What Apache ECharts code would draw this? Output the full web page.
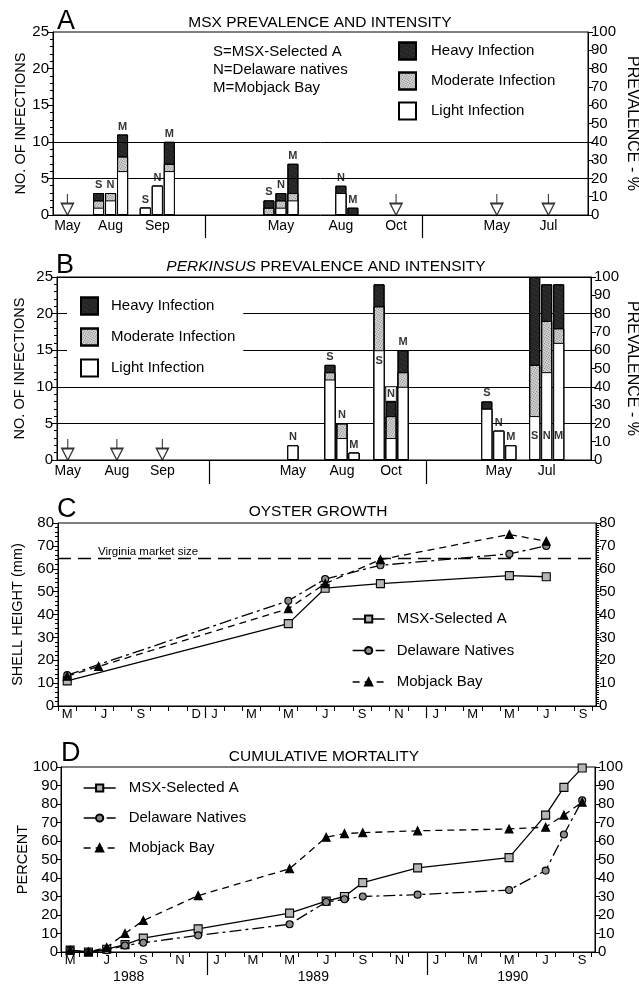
<!DOCTYPE html>
<html>
<head>
<meta charset="utf-8">
<title>Oyster strains: MSX, Perkinsus, growth and mortality</title>
<script src="https://cdn.jsdelivr.net/npm/echarts@6/dist/echarts.min.js"></script>
<style>
  html, body { margin: 0; padding: 0; background: #fff; }
  #chart { width: 639px; height: 985px; }
</style>
</head>
<body>
<div id="chart"></div>
<script>
const FONT = '"Liberation Sans", Arial, Helvetica, sans-serif';

// sampling dates of panels A and B, on a schematic axis (one unit = one bar slot)
const sampleDates = ['May', 'Aug', 'Sep', 'May', 'Aug', 'Oct', 'May', 'Jul'];
const datePosA = [1.2, 4.8, 8.7, 19.0, 24.0, 28.6, 37.0, 41.3];
const datePosB = [0.9, 5.0, 8.8, 19.7, 23.8, 27.9, 36.9, 40.9];
const yearBreakAB = [12.7, 30.8];
const strainOffset = { S: -1, N: 0, M: 1 };

// A: MSX, one entry per bar (date index, strain, counts by intensity)
const aDate = [1, 1, 1, 2, 2, 2, 3, 3, 3, 4, 4];
const aStrain = ['S', 'N', 'M', 'S', 'N', 'M', 'S', 'N', 'M', 'N', 'M'];
const aLight = [1, 2, 6, 1, 4, 6, 0, 1, 2, 3, 0];
const aModerate = [1, 1, 2, 0, 0, 1, 1, 1, 1, 0, 0];
const aHeavy = [1, 0, 3, 0, 0, 3, 1, 1, 4, 1, 1];
const aNoInfection = [0, 5, 6, 7];

// B: Perkinsus
const bDate = [3, 4, 4, 4, 5, 5, 5, 6, 6, 6, 7, 7, 7];
const bStrain = ['N', 'S', 'N', 'M', 'S', 'N', 'M', 'S', 'N', 'M', 'S', 'N', 'M'];
const bLight = [2, 11, 3, 1, 15, 3, 10, 7, 4, 2, 6, 12, 16];
const bModerate = [0, 1, 2, 0, 6, 3, 2, 0, 0, 0, 7, 7, 2];
const bHeavy = [0, 1, 0, 0, 3, 2, 3, 1, 0, 0, 12, 5, 6];
const bLabelMode = ['top', 'top', 'top', 'top', 'inLight', 'box', 'top', 'top', 'top', 'top', 'base', 'base', 'base'];
const bNoInfection = [0, 1, 2];

const intensity = ['Heavy Infection', 'Moderate Infection', 'Light Infection'];
const strainNames = ['MSX-Selected A', 'Delaware Natives', 'Mobjack Bay'];

// C: shell height (mm), months counted from May 1988
const cMsxMonth = [0, 12, 14, 17, 24, 26];
const cMsx = [11, 36, 51.5, 53.5, 57, 56.5];
const cDelMonth = [0, 12, 14, 17, 24, 26];
const cDel = [13.5, 46, 55.5, 61.5, 66.5, 70];
const cMobMonth = [0, 1.7, 12, 14, 17, 24, 26];
const cMob = [13, 17.3, 42.5, 53.5, 64, 75, 72];
const marketSize = 64.5;

// D: cumulative mortality (%)
const dMonth = [0, 1, 2, 3, 4, 7, 12, 14, 15, 16, 19, 24, 26, 27, 28];
const dMsx = [1, 0, 1.5, 4, 7.5, 12.5, 21, 27.5, 30, 37.5, 45.5, 51, 74, 89, 99.5];
const dDel = [1, 0, 1, 3.5, 5, 9, 15, 27, 28.5, 30, 31, 33.5, 44, 63.5, 82];
const dMob = [1, 0, 2.5, 10, 17, 30.5, 45, 62, 64, 64.5, 65.5, 66.5, 67.5, 74, 81];

const cMonthLabels = [0, 2, 4, 7, 8, 10, 12, 14, 16, 18, 20, 22, 24, 26, 28];
const dMonthLabels = [0, 2, 4, 6, 8, 10, 12, 14, 16, 18, 20, 22, 24, 26, 28];
const yearBreakCD = [7.5, 19.5];
const years = ['1988', '1989', '1990'];
const yearPos = [3.2, 13.3, 24.2];

const monthBounds = [];
for (let m = -0.5; m <= 28.5; m += 1) monthBounds.push(m);
const monthLetter = (m) => 'JFMAMJJASOND'[(m + 4) % 12];

const chart = echarts.init(document.getElementById('chart'));

const BLACK = '#000';
const lightStyle = { color: '#fff' };
const moderateStyle = {
  color: '#d6d6d6',
  decal: { symbol: 'rect', symbolSize: 0.8, color: 'rgba(0,0,0,0.55)', dashArrayX: [1, 1], dashArrayY: [1, 1], rotation: 0.5 }
};
const heavyStyle = {
  color: '#252525',
  decal: { symbol: 'rect', symbolSize: 0.6, color: 'rgba(255,255,255,0.45)', dashArrayX: [1, 2], dashArrayY: [1, 3], rotation: 0.5 }
};
const ARROW = 'path://M6,0 L6,9 M0.5,9 L11.5,9 L6,20 Z';

const strainLines = [
  { type: 'solid', symbol: 'rect', size: 8, fill: '#b5b5b5' },
  { type: [12, 4, 3, 4], symbol: 'circle', size: 7, fill: '#8c8c8c' },
  { type: [7, 5], symbol: 'triangle', size: 8, fill: BLACK }
];

function barXs(datePos, dates, strains) {
  return dates.map((d, i) => datePos[d] + strainOffset[strains[i]]);
}

// value axis bars do not stack, so each layer is drawn from zero to its
// cumulative top and the lower layers are painted over the upper ones
function layerSeries(axis, xs, tops, name, style, z) {
  return {
    type: 'bar', name, xAxisIndex: axis, yAxisIndex: axis,
    barWidth: 11, barGap: '-100%', silent: true, z,
    data: xs.map((x, i) => [x, tops[i]]),
    itemStyle: Object.assign({ borderColor: BLACK, borderWidth: 1 }, style)
  };
}

function infectionBars(axis, xs, light, moderate, heavy) {
  const lightTop = light;
  const moderateTop = light.map((v, i) => v + moderate[i]);
  const heavyTop = moderateTop.map((v, i) => v + heavy[i]);
  return [
    layerSeries(axis, xs, heavyTop, 'Heavy Infection', heavyStyle, 3),
    layerSeries(axis, xs, moderateTop, 'Moderate Infection', moderateStyle, 4),
    layerSeries(axis, xs, lightTop, 'Light Infection', lightStyle, 5)
  ];
}

function labelSeries(axis, xs, strains, light, moderate, heavy, modes) {
  const data = xs.map((x, i) => {
    const mode = modes ? modes[i] : 'top';
    const label = {
      show: true, formatter: strains[i], fontSize: 11, fontWeight: 'bold',
      color: BLACK, position: 'top', distance: 2
    };
    let y = light[i] + moderate[i] + heavy[i];
    if (mode === 'base') { y = 0; label.distance = 18; }
    if (mode === 'inLight') { y = light[i]; label.position = 'bottom'; label.distance = 5; }
    if (mode === 'box') {
      Object.assign(label, { backgroundColor: '#fff', borderColor: BLACK, borderWidth: 1, padding: [2, 1, 1, 1], distance: 0 });
    }
    return { value: [x, y], label };
  });
  return {
    type: 'scatter', xAxisIndex: axis, yAxisIndex: axis, symbolSize: 1,
    itemStyle: { color: 'rgba(0,0,0,0)' }, silent: true, z: 7, data
  };
}

function arrowSeries(axis, datePos, dates) {
  return {
    type: 'scatter', xAxisIndex: axis, yAxisIndex: axis, silent: true, z: 6,
    symbol: ARROW, symbolSize: [12, 21], symbolOffset: [0, -10.5],
    itemStyle: { color: '#fff', borderColor: BLACK, borderWidth: 1.4 },
    data: dates.map((d) => [datePos[d], 0])
  };
}

function dateAxis(grid, pos) {
  return {
    type: 'value', gridIndex: grid, min: 0, max: 44.6,
    axisLine: { onZero: false, lineStyle: { color: BLACK } }, axisTick: { show: false }, splitLine: { show: false },
    axisLabel: { customValues: pos, formatter: (v) => sampleDates[pos.indexOf(v)], fontSize: 14, margin: 4, color: BLACK }
  };
}

function monthAxis(grid, labels) {
  return {
    type: 'value', gridIndex: grid, min: -0.5, max: 28.7,
    axisLine: { onZero: false, lineStyle: { color: BLACK } }, splitLine: { show: false },
    axisTick: { customValues: monthBounds, length: 5, lineStyle: { color: BLACK } },
    axisLabel: { customValues: labels, formatter: (v) => monthLetter(v), fontSize: 13, margin: 2, color: BLACK }
  };
}

function breakAxis(grid, min, max, breaks, len, labelPos, labels) {
  return {
    type: 'value', gridIndex: grid, min, max, position: 'bottom',
    axisLine: { show: false, onZero: false }, splitLine: { show: false },
    axisTick: { show: true, customValues: breaks, length: len, lineStyle: { color: BLACK, width: 1.2 } },
    axisLabel: labelPos
      ? { customValues: labelPos, formatter: (v) => labels[labelPos.indexOf(v)], fontSize: 14, margin: 18, color: BLACK }
      : { show: false }
  };
}

function valueAxis(grid, max, interval, opts) {
  const ax = {
    type: 'value', gridIndex: grid, min: 0, max, interval,
    position: opts.right ? 'right' : 'left',
    axisLine: { show: true, onZero: false, lineStyle: { color: BLACK } },
    axisTick: { show: true, length: opts.tick || 5, lineStyle: { color: BLACK } },
    minorTick: { show: !!opts.minor, splitNumber: opts.minor || 5, length: 3, lineStyle: { color: BLACK } },
    splitLine: { show: !!opts.split, lineStyle: { color: BLACK, width: 1 } },
    axisLabel: { fontSize: 15, margin: opts.margin || 3, color: BLACK }
  };
  if (opts.name) {
    Object.assign(ax, {
      name: opts.name, nameLocation: 'middle', nameGap: opts.gap, nameMoveOverlap: false,
      nameTextStyle: { fontSize: opts.nameSize || 14.5, color: BLACK }
    });
    if (opts.right) ax.nameRotate = -90;
  }
  return ax;
}

function strainLine(axis, k, months, values) {
  const s = strainLines[k];
  return {
    type: 'line', name: strainNames[k], xAxisIndex: axis, yAxisIndex: axis, silent: true, z: 4,
    data: months.map((m, i) => [m, values[i]]),
    symbol: s.symbol, symbolSize: s.size, showSymbol: true,
    lineStyle: { color: BLACK, width: 1.3, type: s.type },
    itemStyle: { color: s.fill, borderColor: BLACK, borderWidth: 1.1 }
  };
}

function strainLegend(left, top, gap, pad) {
  return {
    left, top, padding: 0, orient: 'vertical', selectedMode: false,
    itemWidth: 32, itemHeight: 9, itemGap: gap,
    data: strainNames.map((name, k) => ({
      name, lineStyle: { type: strainLines[k].type, width: 1.3, color: BLACK }
    })),
    textStyle: { fontSize: 15, color: BLACK, padding: [0, 0, 0, pad] }
  };
}

const xsA = barXs(datePosA, aDate, aStrain);
const xsB = barXs(datePosB, bDate, bStrain);

const series = [
  // A
  {
    type: 'line', xAxisIndex: 0, yAxisIndex: 0, data: [], z: 1, silent: true,
    markLine: { symbol: 'none', silent: true, label: { show: false }, lineStyle: { color: BLACK, width: 1, type: 'solid' }, data: [{ yAxis: 5 }, { yAxis: 10 }] }
  },
  ...infectionBars(0, xsA, aLight, aModerate, aHeavy),
  labelSeries(0, xsA, aStrain, aLight, aModerate, aHeavy),
  arrowSeries(0, datePosA, aNoInfection),
  // B
  ...infectionBars(2, xsB, bLight, bModerate, bHeavy),
  labelSeries(2, xsB, bStrain, bLight, bModerate, bHeavy, bLabelMode),
  arrowSeries(2, datePosB, bNoInfection),
  // C
  {
    type: 'line', xAxisIndex: 4, yAxisIndex: 4, data: [], z: 2, silent: true,
    markLine: {
      symbol: 'none', silent: true,
      lineStyle: { color: BLACK, width: 1.3, type: [13, 7] },
      label: { show: true, formatter: 'Virginia market size', position: 'insideStartTop', distance: 1, padding: [0, 0, 0, 39], fontSize: 11.5, color: BLACK },
      data: [{ yAxis: marketSize }]
    }
  },
  strainLine(4, 0, cMsxMonth, cMsx),
  strainLine(4, 1, cDelMonth, cDel),
  strainLine(4, 2, cMobMonth, cMob),
  // D
  strainLine(6, 0, dMonth, dMsx),
  strainLine(6, 1, dMonth, dDel),
  strainLine(6, 2, dMonth, dMob)
];

const gridBase = { show: true, borderColor: BLACK, borderWidth: 1, backgroundColor: 'transparent', containLabel: false, outerBoundsMode: 'none' };

const option = {
  animation: false,
  backgroundColor: '#fff',
  textStyle: { fontFamily: FONT, color: BLACK },
  grid: [
    Object.assign({ left: 53, top: 32, right: 51, height: 183 }, gridBase),
    Object.assign({ left: 57, top: 277, right: 48, height: 183 }, gridBase),
    Object.assign({ left: 58, top: 523, right: 43, height: 183 }, gridBase),
    Object.assign({ left: 61, top: 767, right: 44, height: 185 }, gridBase)
  ],
  xAxis: [
    dateAxis(0, datePosA),
    breakAxis(0, 0, 44.6, yearBreakAB, 23),
    dateAxis(1, datePosB),
    breakAxis(1, 0, 44.6, yearBreakAB, 24),
    monthAxis(2, cMonthLabels),
    breakAxis(2, -0.5, 28.7, yearBreakCD, 12),
    monthAxis(3, dMonthLabels),
    breakAxis(3, -0.5, 28.7, yearBreakCD, 23, yearPos, years)
  ],
  yAxis: [
    valueAxis(0, 25, 5, { minor: 5, tick: 6, margin: 4, name: 'NO. OF INFECTIONS', gap: 25 }),
    valueAxis(0, 100, 10, { right: true, margin: 3, name: 'PREVALENCE - %', gap: 36, nameSize: 16 }),
    valueAxis(1, 25, 5, { minor: 5, tick: 6, margin: 4, split: true, name: 'NO. OF INFECTIONS', gap: 30 }),
    valueAxis(1, 100, 10, { right: true, margin: 3, name: 'PREVALENCE - %', gap: 33, nameSize: 16 }),
    valueAxis(2, 80, 10, { minor: 5, tick: 6, margin: 4, name: 'SHELL HEIGHT (mm)', gap: 33 }),
    valueAxis(2, 80, 10, { right: true, minor: 10, tick: 5, margin: 3 }),
    valueAxis(3, 100, 10, { tick: 5, margin: 3, name: 'PERCENT', gap: 31 }),
    valueAxis(3, 100, 10, { right: true, tick: 5, margin: 3 })
  ],
  legend: [
    {
      left: 398, top: 41.5, padding: 0, orient: 'vertical', selectedMode: false,
      itemWidth: 17, itemHeight: 17, itemGap: 11, icon: 'rect', data: intensity,
      textStyle: { fontSize: 15, color: BLACK, padding: [0, 0, 0, 10] }
    },
    {
      left: 67, top: 292.5, padding: [4, 8, 4, 13], backgroundColor: '#fff', orient: 'vertical', selectedMode: false,
      itemWidth: 17, itemHeight: 17, itemGap: 12, icon: 'rect', data: intensity,
      textStyle: { fontSize: 15, color: BLACK, padding: [0, 0, 0, 8] }
    },
    strainLegend(352, 611.5, 16.5, 7),
    strainLegend(83, 780.5, 15, 8)
  ],
  graphic: [
    { type: 'text', x: 57, y: 8, style: { text: 'A', fontSize: 27, fontFamily: FONT, fill: BLACK } },
    { type: 'text', x: 56, y: 252, style: { text: 'B', fontSize: 27, fontFamily: FONT, fill: BLACK } },
    { type: 'text', x: 57, y: 496, style: { text: 'C', fontSize: 27, fontFamily: FONT, fill: BLACK } },
    { type: 'text', x: 61, y: 740, style: { text: 'D', fontSize: 27, fontFamily: FONT, fill: BLACK } },
    { type: 'text', x: 320, y: 23, style: { text: 'MSX PREVALENCE AND INTENSITY', fontSize: 15.5, fontFamily: FONT, fill: BLACK, align: 'center', verticalAlign: 'middle' } },
    {
      type: 'text', x: 326, y: 267,
      style: {
        text: '{i|PERKINSUS} PREVALENCE AND INTENSITY', fontSize: 15.5, fontFamily: FONT, fill: BLACK, align: 'center', verticalAlign: 'middle',
        rich: { i: { fontStyle: 'italic', fontSize: 15.5, fontFamily: FONT, fill: BLACK } }
      }
    },
    { type: 'text', x: 318, y: 512, style: { text: 'OYSTER GROWTH', fontSize: 15.5, fontFamily: FONT, fill: BLACK, align: 'center', verticalAlign: 'middle' } },
    { type: 'text', x: 324, y: 757, style: { text: 'CUMULATIVE MORTALITY', fontSize: 15.5, fontFamily: FONT, fill: BLACK, align: 'center', verticalAlign: 'middle' } },
    { type: 'text', x: 213, y: 52, style: { text: 'S=MSX-Selected A', fontSize: 15, fontFamily: FONT, fill: BLACK, verticalAlign: 'middle' } },
    { type: 'text', x: 213, y: 70, style: { text: 'N=Delaware natives', fontSize: 15, fontFamily: FONT, fill: BLACK, verticalAlign: 'middle' } },
    { type: 'text', x: 213, y: 88, style: { text: 'M=Mobjack Bay', fontSize: 15, fontFamily: FONT, fill: BLACK, verticalAlign: 'middle' } }
  ],
  series
};

chart.setOption(option);
</script>
</body>
</html>
